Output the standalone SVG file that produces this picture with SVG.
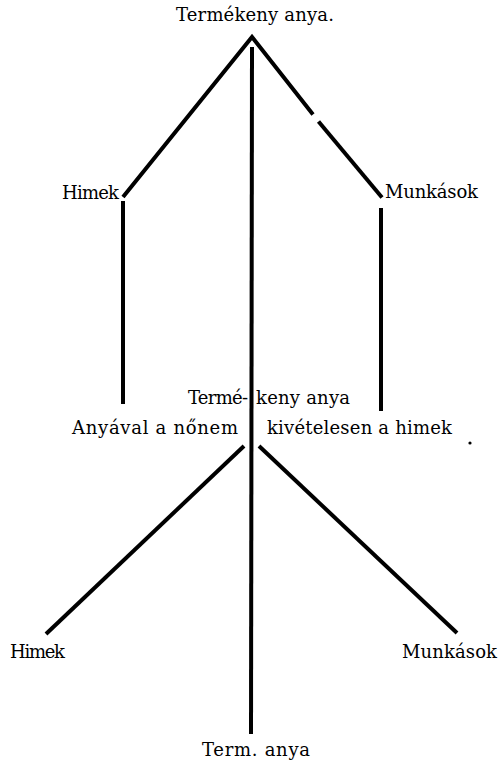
<svg xmlns="http://www.w3.org/2000/svg" width="498" height="761" viewBox="0 0 498 761">
<style>
.t{font-family:"DejaVu Serif","Liberation Serif",serif;font-size:18px;fill:#000}
.c{stroke:#000;stroke-width:4;fill:none;stroke-linecap:butt;stroke-linejoin:miter}
</style>
<rect width="498" height="761" fill="#fff"/>
<g id="connectors">
<polyline class="c" points="123,197 252,37 313,114.5"/>
<line class="c" x1="318.5" y1="121.5" x2="382" y2="197.5"/>
<line class="c" x1="252" y1="47" x2="251" y2="734"/>
<line class="c" x1="123" y1="201" x2="123" y2="404"/>
<line class="c" x1="381" y1="208" x2="381" y2="411"/>
<line class="c" x1="244" y1="446" x2="46" y2="634"/>
<line class="c" x1="259" y1="446" x2="457" y2="633"/>
</g>
<g id="n-top"><text class="t" x="176" y="20.5" textLength="158" lengthAdjust="spacing">Termékeny anya.</text></g>
<g id="n-himek1"><text class="t" x="62" y="199" textLength="57" lengthAdjust="spacing">Himek</text></g>
<g id="n-munkasok1"><text class="t" x="385" y="198" textLength="93" lengthAdjust="spacing">Munkások</text></g>
<g id="n-mid">
<text class="t" x="188" y="404" textLength="60" lengthAdjust="spacing">Termé-</text>
<text class="t" x="256" y="404" textLength="94" lengthAdjust="spacing">keny anya</text>
</g>
<g id="n-anyaval"><text class="t" x="72" y="434" textLength="166" lengthAdjust="spacing">Anyával a nőnem</text></g>
<g id="n-kiveteles"><text class="t" x="267" y="434" textLength="185" lengthAdjust="spacing">kivételesen a himek</text></g>
<circle cx="470" cy="443" r="1.6" fill="#000"/>
<g id="n-himek2"><text class="t" x="10" y="658" textLength="55" lengthAdjust="spacing">Himek</text></g>
<g id="n-munkasok2"><text class="t" x="402" y="658" textLength="95" lengthAdjust="spacing">Munkások</text></g>
<g id="n-term"><text class="t" x="202" y="756" textLength="108" lengthAdjust="spacing">Term. anya</text></g>
</svg>
